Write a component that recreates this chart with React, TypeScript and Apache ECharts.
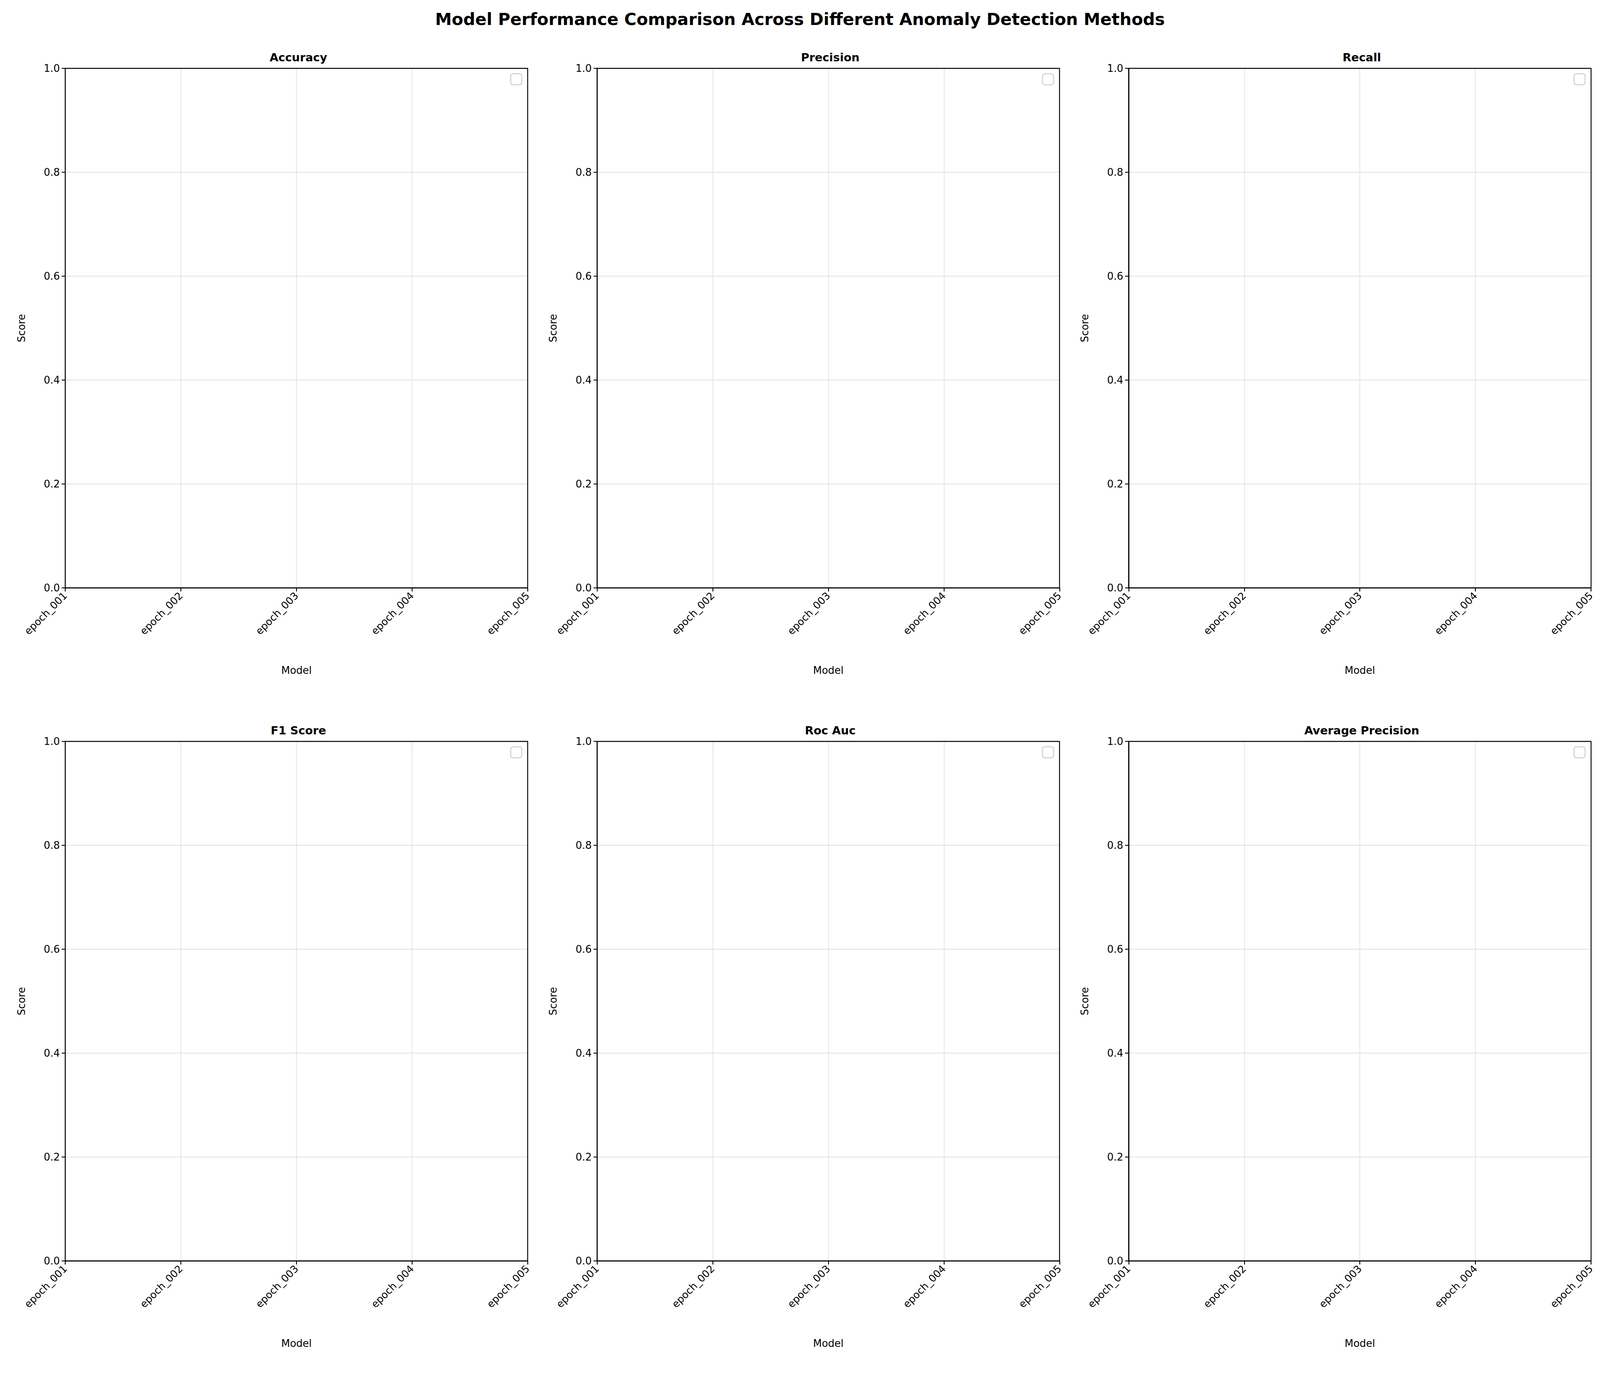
import { useRef, useEffect } from 'react'
import * as echarts from 'echarts'

const metrics = ['Accuracy', 'Precision', 'Recall', 'F1 Score', 'Roc Auc', 'Average Precision']
const models = ['epoch_001', 'epoch_002', 'epoch_003', 'epoch_004', 'epoch_005']
// no scores were recorded, every panel is empty
const scores: number[][] = [[], [], [], [], [], []]

const FONT = 'DejaVu Sans'
// layout measured on a 5370 x 3543 figure, scaled to the real viewport
const colLeft = [219, 2004, 3788]
const rowTop = [175, 1898]
const W = 1552
const H = 1330

export default function App() {
  const ref = useRef<HTMLDivElement>(null)

  useEffect(() => {
    document.body.style.margin = '0'
    document.body.style.overflow = 'hidden'
    const el = ref.current
    if (!el) return
    const chart = echarts.init(el, null, { renderer: 'svg' })
    const sx = el.clientWidth / 5370
    const sy = el.clientHeight / 3543
    const s = Math.min(sx, sy)

    const grids: any[] = []
    const xAxes: any[] = []
    const yAxes: any[] = []
    const titles: any[] = [{
      text: 'Model Performance Comparison Across Different Anomaly Detection Methods',
      left: 'center', top: 22 * sy,
      textStyle: { fontFamily: FONT, fontSize: 56 * s, fontWeight: 'bold', color: '#000' }
    }]
    const graphics: any[] = []

    metrics.forEach((m, i) => {
      const left = colLeft[i % 3] * sx
      const top = rowTop[Math.floor(i / 3)] * sy
      const w = W * sx
      const h = H * sy
      grids.push({ left, top, width: w, height: h })
      xAxes.push({
        type: 'category', gridIndex: i, data: models, boundaryGap: false,
        name: 'Model', nameLocation: 'middle', nameGap: 260 * s,
        nameTextStyle: { fontFamily: FONT, fontSize: 34 * s, color: '#000' },
        axisLine: { lineStyle: { color: '#000', width: 3 * s } },
        axisTick: { show: true, length: 12 * s, lineStyle: { color: '#000', width: 3 * s }, alignWithLabel: true },
        axisLabel: { rotate: 45, margin: 20 * s, fontFamily: FONT, fontSize: 34 * s, color: '#000', interval: 0 },
        splitLine: { show: true, lineStyle: { color: '#e6e6e6', width: 3 * s } }
      })
      yAxes.push({
        type: 'value', gridIndex: i, min: 0, max: 1, interval: 0.2,
        name: 'Score', nameLocation: 'middle', nameGap: 130 * s,
        nameTextStyle: { fontFamily: FONT, fontSize: 34 * s, color: '#000' },
        axisLine: { show: true, lineStyle: { color: '#000', width: 3 * s } },
        axisTick: { show: true, length: 12 * s, lineStyle: { color: '#000', width: 3 * s } },
        axisLabel: { margin: 18 * s, fontFamily: FONT, fontSize: 34 * s, color: '#000', formatter: (v: number) => v.toFixed(1) },
        splitLine: { show: true, lineStyle: { color: '#e6e6e6', width: 3 * s } }
      })
      titles.push({
        text: m, left: left + w / 2, top: top - 62 * s, textAlign: 'center',
        textStyle: { fontFamily: FONT, fontSize: 38 * s, fontWeight: 'bold', color: '#000' }
      })
      // axes frame on top of the grid lines
      graphics.push({
        type: 'rect', z: 100,
        shape: { x: left, y: top, width: w, height: h },
        style: { fill: 'none', stroke: '#000', lineWidth: 3 * s }
      })
      // empty legend frame
      graphics.push({
        type: 'rect', z: 100,
        shape: { x: left + w - 57 * s, y: top + 18 * s, width: 37 * s, height: 37 * s, r: 8 * s },
        style: { fill: '#fff', stroke: '#d5d5d5', lineWidth: 4 * s }
      })
    })

    chart.setOption({
      animation: false,
      backgroundColor: '#fff',
      title: titles,
      grid: grids,
      xAxis: xAxes,
      yAxis: yAxes,
      graphic: graphics,
      series: metrics.map((m, i) => ({
        type: 'line', name: m, xAxisIndex: i, yAxisIndex: i, data: scores[i]
      }))
    })

    return () => chart.dispose()
  }, [])

  return <div ref={ref} style={{ width: '100vw', height: '100vh' }} />
}
